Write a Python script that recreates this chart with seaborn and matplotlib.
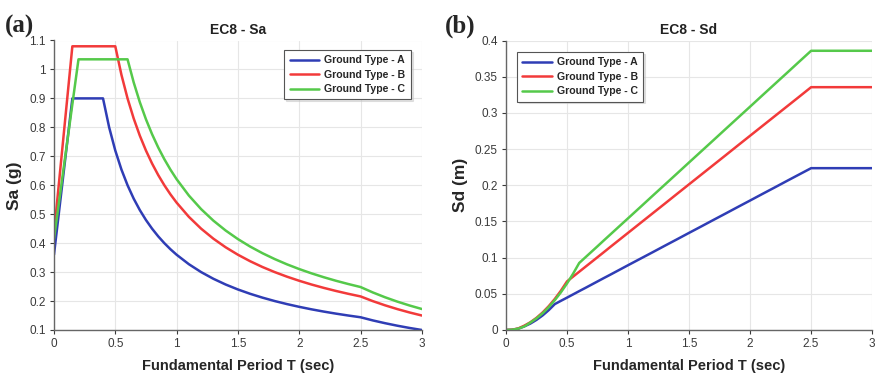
import numpy as np
import pandas as pd
import seaborn as sns
import matplotlib
matplotlib.use('Agg')
from matplotlib import pyplot as plt
from matplotlib.ticker import FuncFormatter

# periyot ekseni (s)
period = [0.0, 0.05, 0.1, 0.15, 0.2, 0.25, 0.3, 0.35, 0.4, 0.45, 0.5,
          0.55, 0.6, 0.65, 0.7, 0.75, 0.8, 0.85, 0.9, 0.95, 1.0,
          1.1, 1.2, 1.3, 1.4, 1.5, 1.6, 1.7, 1.8, 1.9, 2.0,
          2.1, 2.2, 2.3, 2.4, 2.5, 2.6, 2.7, 2.8, 2.9, 3.0]

# Sa (g)
sa_A = [0.36, 0.54, 0.72, 0.9, 0.9, 0.9, 0.9, 0.9, 0.9, 0.8, 0.72,
        0.6545, 0.6, 0.5538, 0.5143, 0.48, 0.45, 0.4235, 0.4, 0.3789, 0.36,
        0.3273, 0.3, 0.2769, 0.2571, 0.24, 0.225, 0.2118, 0.2, 0.1895, 0.18,
        0.1714, 0.1636, 0.1565, 0.15, 0.144, 0.1331, 0.1235, 0.1148, 0.107, 0.1]
sa_B = [0.432, 0.648, 0.864, 1.08, 1.08, 1.08, 1.08, 1.08, 1.08, 1.08, 1.08,
        0.9818, 0.9, 0.8308, 0.7714, 0.72, 0.675, 0.6353, 0.6, 0.5684, 0.54,
        0.4909, 0.45, 0.4154, 0.3857, 0.36, 0.3375, 0.3176, 0.3, 0.2842, 0.27,
        0.2571, 0.2455, 0.2348, 0.225, 0.216, 0.1997, 0.1852, 0.1722, 0.1605, 0.15]
sa_C = [0.414, 0.5693, 0.7245, 0.8798, 1.035, 1.035, 1.035, 1.035, 1.035, 1.035, 1.035,
        1.035, 1.035, 0.9554, 0.8871, 0.828, 0.7763, 0.7306, 0.69, 0.6537, 0.621,
        0.5645, 0.5175, 0.4777, 0.4436, 0.414, 0.3881, 0.3653, 0.345, 0.3268, 0.3105,
        0.2957, 0.2823, 0.27, 0.2588, 0.2484, 0.2297, 0.213, 0.198, 0.1846, 0.1725]

# Sd (m)
sd_A = [0.0, 0.0003, 0.0018, 0.005, 0.0089, 0.014, 0.0201, 0.0274, 0.0358, 0.0403, 0.0447,
        0.0492, 0.0537, 0.0581, 0.0626, 0.0671, 0.0716, 0.076, 0.0805, 0.085, 0.0895,
        0.0984, 0.1073, 0.1163, 0.1252, 0.1342, 0.1431, 0.1521, 0.161, 0.17, 0.1789,
        0.1879, 0.1968, 0.2058, 0.2147, 0.2236, 0.2236, 0.2236, 0.2236, 0.2236, 0.2236]
sd_B = [0.0, 0.0004, 0.0021, 0.006, 0.0107, 0.0168, 0.0242, 0.0329, 0.0429, 0.0543, 0.0671,
        0.0738, 0.0805, 0.0872, 0.0939, 0.1006, 0.1073, 0.1141, 0.1208, 0.1275, 0.1342,
        0.1476, 0.161, 0.1744, 0.1879, 0.2013, 0.2147, 0.2281, 0.2415, 0.255, 0.2684,
        0.2818, 0.2952, 0.3086, 0.322, 0.3355, 0.3355, 0.3355, 0.3355, 0.3355, 0.3355]
sd_C = [0.0, 0.0004, 0.0018, 0.0049, 0.0103, 0.0161, 0.0231, 0.0315, 0.0412, 0.0521, 0.0643,
        0.0778, 0.0926, 0.1003, 0.108, 0.1157, 0.1235, 0.1312, 0.1389, 0.1466, 0.1543,
        0.1697, 0.1852, 0.2006, 0.216, 0.2315, 0.2469, 0.2623, 0.2778, 0.2932, 0.3086,
        0.3241, 0.3395, 0.3549, 0.3704, 0.3858, 0.3858, 0.3858, 0.3858, 0.3858, 0.3858]

labels = ["Ground Type - A", "Ground Type - B", "Ground Type - C"]
colors = {labels[0]: "#2f3db5", labels[1]: "#f23a3a", labels[2]: "#55c94a"}

df_sa = pd.concat([pd.DataFrame({"T": period, "val": v, "tip": lab})
                   for v, lab in zip([sa_A, sa_B, sa_C], labels)])
df_sd = pd.concat([pd.DataFrame({"T": period, "val": v, "tip": lab})
                   for v, lab in zip([sd_A, sd_B, sd_C], labels)])

sns.set_style("white")
plt.rcParams['font.family'] = ['Liberation Sans', 'DejaVu Sans']

fig = plt.figure(figsize=(8.76, 3.75), dpi=100)
ax1 = fig.add_axes([0.0616, 0.12, 0.42, 0.772])
ax2 = fig.add_axes([0.5776, 0.12, 0.418, 0.772])


def style_ax(ax, title, ylabel, yticks):
    ax.set_xlim(0, 3)
    ax.set_ylim(yticks[0], yticks[-1])
    ax.set_xticks([0, 0.5, 1, 1.5, 2, 2.5, 3])
    ax.set_yticks(yticks)
    ax.xaxis.set_major_formatter(FuncFormatter(lambda v, p: f"{v:g}"))
    ax.yaxis.set_major_formatter(FuncFormatter(lambda v, p: f"{round(v, 3):g}"))
    ax.grid(True, color="#e6e6e6", linewidth=0.8)
    for s in ["top", "right"]:
        ax.spines[s].set_visible(False)
    for s in ["left", "bottom"]:
        ax.spines[s].set_color("#666666")
        ax.spines[s].set_linewidth(1.0)
    ax.tick_params(axis="both", which="major", labelsize=8.5, colors="#3a3a3a",
                   length=3, width=0.8, direction="out", pad=3, bottom=True, left=True)
    ax.set_title(title, fontsize=10, fontweight="bold", pad=5, color="#222222")
    ax.set_xlabel("Fundamental Period T (sec)", fontsize=10.5, fontweight="bold", labelpad=6)
    ax.set_ylabel(ylabel, fontsize=12.5, fontweight="bold", labelpad=5)


def add_legend(ax, loc, anchor):
    leg = ax.legend(loc=loc, bbox_to_anchor=anchor, frameon=True, fancybox=False,
                    prop={"weight": "bold", "size": 7.6}, handlelength=2.8, borderpad=0.5,
                    labelspacing=0.42, handletextpad=0.5, borderaxespad=0,
                    shadow={"color": "#c8c8c8", "ox": 1.2, "oy": -1.2})
    leg.get_frame().set_edgecolor("#555555")
    leg.get_frame().set_linewidth(0.8)
    return leg


sns.lineplot(data=df_sa, x="T", y="val", hue="tip", palette=colors, ax=ax1,
             linewidth=1.8, estimator=None, sort=False)
style_ax(ax1, "EC8 - Sa", "Sa (g)", [round(0.1 * i, 1) for i in range(1, 12)])
add_legend(ax1, "upper right", (0.97, 0.967))

sns.lineplot(data=df_sd, x="T", y="val", hue="tip", palette=colors, ax=ax2,
             linewidth=1.8, estimator=None, sort=False)
style_ax(ax2, "EC8 - Sd", "Sd (m)", [0.05 * i for i in range(0, 9)])
add_legend(ax2, "upper left", (0.03, 0.96))

fig.text(0.005, 0.93, "(a)", fontsize=18, fontweight="bold", family="Liberation Serif", va="center")
fig.text(0.508, 0.93, "(b)", fontsize=18, fontweight="bold", family="Liberation Serif", va="center")

fig.savefig("out.png", dpi=100)
